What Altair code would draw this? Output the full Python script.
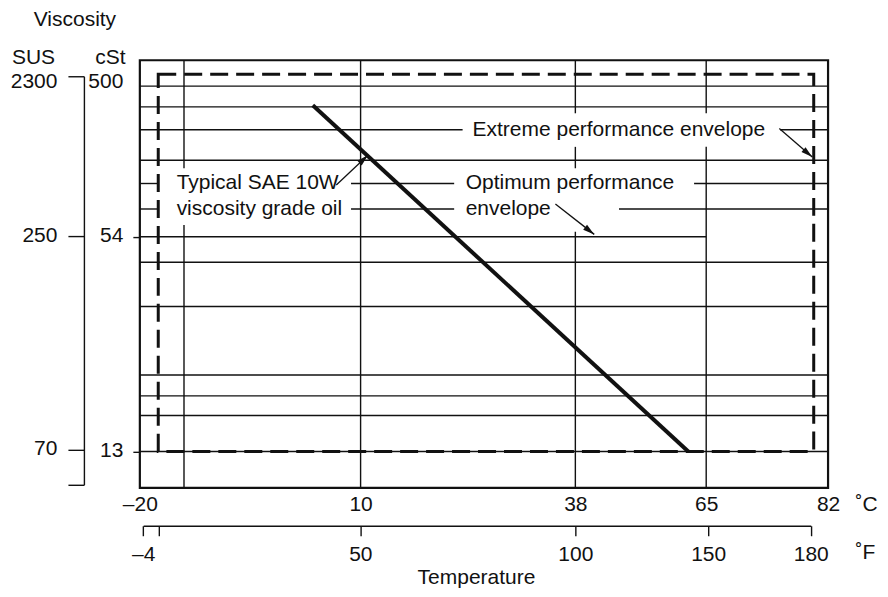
import altair as alt
import pandas as pd

FONT = "Liberation Sans"
FS = 21
INK = "#111111"

# ---------------- axis values ----------------
celsius_ticks = [-20, 10, 38, 65, 82]
celsius_labels = ["–20", "10", "38", "65", "82"]
fahrenheit_breaks = [-4, 50, 100, 150, 180]
fahrenheit_ticks = [-4, 0, 50, 100, 150, 180]
fahrenheit_labels = ["–4", "", "50", "100", "150", "180"]
cst_ticks = [13, 54, 500]
cst_labels = ["13", "54", "500"]
cst_frame = [10, 600]          # viscosity at the frame bottom / top
sus_ticks = [60, 70, 250, 2300]
sus_labels = ["", "70", "250", "2300"]
titles = ["Viscosity", "Temperature"]

# ---------------- grid segments ----------------
# horizontal lines: viscosity (cSt), start / end temperature (°C)
hgrid_visc = [425, 320, 234, 234, 154, 112, 112, 112, 79, 79, 79, 54, 45.6, 34, 21.6, 18.8, 16.5, 13]
hgrid_start = [-20, -20, -20, 75.3, -20, -20, 8.7, 62.5, -20, 8.7, 47, -20, -20, -20, -20, -20, -20, -20]
hgrid_end = [82, 82, 23.3, 82, 82, -17.5, 22.2, 82, -17.5, 22.2, 82, 65, 82, 82, 82, 82, 82, 82]
# vertical lines: temperature (°C), top / bottom viscosity (cSt)
vgrid_temp = [-14, -14, 10, 38, 38, 38, 65, 65]
vgrid_top = [600, 63.4, 600, 600, 185, 57.8, 600, 185]
vgrid_bot = [138, 10, 10, 293, 138, 10, 293, 10]

# ---------------- envelopes and oil line ----------------
extreme_temp = [-17.5, 80]
extreme_visc = [13, 500]
oil_temp = [3.5, 61.3]
oil_visc = [327, 13]

# ---------------- annotations ----------------
label_text = ["Extreme performance envelope", "Typical SAE 10W", "viscosity grade oil",
              "Optimum performance", "envelope"]
label_temp = [24.6, -15.0, -15.0, 23.7, 23.7]
label_visc = [234, 112, 79, 112, 79]

arrow_t1 = [6.7, 75.2, 35.4]
arrow_v1 = [109.6, 238, 84.5]
arrow_t2 = [10.95, 79.8, 41.9]
arrow_v2 = [165, 161, 55.8]
arrow_angle = [46.5, 130.5, 127.6]

# ---------------- layout (pixel ranges) ----------------
C_RANGE = [0, 221, 436, 567, 689]
CST_RANGE = [428, 391.7, 176.7, 14, 0]
F_RANGE = [3.3, 220.7, 436, 569, 671.7]
SUS_RANGE = [425, 390, 176, 16]
ARROW_PATH = "M0,0L-0.6,2.2L0.6,2.2Z"


def label_expr(values, labels):
    expr = "''"
    for v, l in zip(values, labels):
        expr = f"datum.value == {v} ? '{l}' : ({expr})"
    return expr


x_scale = alt.Scale(type="linear", domain=celsius_ticks, range=C_RANGE, nice=False, zero=False)
y_scale = alt.Scale(type="log", domain=[cst_frame[0]] + cst_ticks + [cst_frame[1]],
                    range=CST_RANGE, nice=False)
f_scale = alt.Scale(type="linear", domain=fahrenheit_breaks, range=F_RANGE, nice=False, zero=False)
sus_scale = alt.Scale(type="log", domain=sus_ticks, range=SUS_RANGE, nice=False)

c_axis = alt.Axis(orient="bottom", values=celsius_ticks,
                  labelExpr=label_expr(celsius_ticks, celsius_labels),
                  ticks=False, domain=False, grid=False, labelPadding=6,
                  labelFlush=False, labelOverlap=False,
                  title="˚C", titleX=716, titleY=17, titleAngle=0,
                  titleAlign="left", titleBaseline="middle")
cst_axis = alt.Axis(orient="left", values=cst_ticks,
                    labelExpr=label_expr(cst_ticks, cst_labels),
                    tickSize=7, tickColor=INK, tickWidth=1.4,
                    tickOpacity={"condition": {"test": "datum.value == 500", "value": 0}, "value": 1},
                    labelOffset={"condition": {"test": "datum.value == 500", "value": 7}, "value": -1},
                    domain=False, grid=False, labelPadding=10, labelOverlap=False,
                    title="cSt", titleX=-30, titleY=-3, titleAngle=0,
                    titleAlign="center", titleBaseline="middle")
f_axis = alt.Axis(orient="bottom", offset=38, values=fahrenheit_ticks,
                  labelExpr=label_expr(fahrenheit_ticks, fahrenheit_labels),
                  tickSize=10, tickColor=INK, tickWidth=1.4,
                  domain=True, domainColor=INK, domainWidth=1.4, grid=False,
                  labelPadding=8, labelFlush=False, labelOverlap=False,
                  title="˚F", titleX=716, titleY=27, titleAngle=0,
                  titleAlign="left", titleBaseline="middle")
sus_axis = alt.Axis(orient="left", offset=56, values=sus_ticks,
                    labelExpr=label_expr(sus_ticks, sus_labels),
                    tickSize=16, tickColor=INK, tickWidth=1.4,
                    labelOffset={"condition": {"test": "datum.value == 2300", "value": 5}, "value": -1},
                    labelPadding=11,
                    domain=True, domainColor=INK, domainWidth=1.4, grid=False,
                    labelOverlap=False,
                    title="SUS", titleX=-51, titleY=-3, titleAngle=0,
                    titleAlign="center", titleBaseline="middle")

hgrid_df = pd.DataFrame({"v": hgrid_visc, "t1": hgrid_start, "t2": hgrid_end})
vgrid_df = pd.DataFrame({"t": vgrid_temp, "v1": vgrid_top, "v2": vgrid_bot})
env_df = pd.DataFrame({"t1": [extreme_temp[0]], "t2": [extreme_temp[1]],
                       "v1": [extreme_visc[0]], "v2": [extreme_visc[1]]})
oil_df = pd.DataFrame({"t": oil_temp, "v": oil_visc})
lab_df = pd.DataFrame({"text": label_text, "t": label_temp, "v": label_visc})
arr_df = pd.DataFrame({"t1": arrow_t1, "v1": arrow_v1, "t2": arrow_t2, "v2": arrow_v2,
                       "ang": arrow_angle})

hgrid = alt.Chart(hgrid_df).mark_rule(color=INK, strokeWidth=1.4).encode(
    x=alt.X("t1:Q", scale=x_scale, axis=c_axis),
    x2="t2:Q",
    y=alt.Y("v:Q", scale=y_scale, axis=cst_axis),
)
vgrid = alt.Chart(vgrid_df).mark_rule(color=INK, strokeWidth=1.4).encode(
    x=alt.X("t:Q", scale=x_scale, axis=None),
    y=alt.Y("v1:Q", scale=y_scale, axis=None),
    y2="v2:Q",
)
envelope = alt.Chart(env_df).mark_rect(fill="white", fillOpacity=0, stroke=INK,
                                       strokeWidth=3, strokeDash=[18, 8]).encode(
    x=alt.X("t1:Q", scale=x_scale, axis=None),
    x2="t2:Q",
    y=alt.Y("v1:Q", scale=y_scale, axis=None),
    y2="v2:Q",
)
oil = alt.Chart(oil_df).mark_line(color=INK, strokeWidth=4).encode(
    x=alt.X("t:Q", scale=x_scale, axis=None),
    y=alt.Y("v:Q", scale=y_scale, axis=None),
)
arrow_lines = alt.Chart(arr_df).mark_rule(color=INK, strokeWidth=1.3).encode(
    x=alt.X("t1:Q", scale=x_scale, axis=None),
    y=alt.Y("v1:Q", scale=y_scale, axis=None),
    x2="t2:Q",
    y2="v2:Q",
)
arrow_heads = alt.Chart(arr_df).mark_point(shape=ARROW_PATH, filled=True, size=110,
                                           color=INK, opacity=1, strokeWidth=0).encode(
    x=alt.X("t2:Q", scale=x_scale, axis=None),
    y=alt.Y("v2:Q", scale=y_scale, axis=None),
    angle=alt.Angle("ang:Q", scale=None),
)
labels = alt.Chart(lab_df).mark_text(align="left", baseline="middle", font=FONT,
                                     fontSize=FS, color=INK).encode(
    x=alt.X("t:Q", scale=x_scale, axis=None),
    y=alt.Y("v:Q", scale=y_scale, axis=None),
    text="text:N",
)
visc_title = alt.Chart(pd.DataFrame({"s": [titles[0]]})).mark_text(
    align="center", baseline="middle", font=FONT, fontSize=FS, color=INK).encode(
    x=alt.value(-65), y=alt.value(-40), text="s:N")
temp_title = alt.Chart(pd.DataFrame({"s": [titles[1]]})).mark_text(
    align="center", baseline="middle", font=FONT, fontSize=FS, color=INK).encode(
    x=alt.value(337), y=alt.value(518), text="s:N")

f_layer = alt.Chart(pd.DataFrame({"f": fahrenheit_breaks})).mark_point(opacity=0).encode(
    x=alt.X("f:Q", scale=f_scale, axis=f_axis))
sus_layer = alt.Chart(pd.DataFrame({"s": sus_ticks})).mark_point(opacity=0).encode(
    y=alt.Y("s:Q", scale=sus_scale, axis=sus_axis))

chart = alt.layer(
    hgrid, vgrid, envelope, oil, arrow_lines, arrow_heads, labels,
    visc_title, temp_title, f_layer, sus_layer
).resolve_scale(
    x="independent", y="independent"
).properties(
    width=689, height=428,
    padding={"left": 132, "top": 52, "right": 52, "bottom": 104},
    autosize=alt.AutoSizeParams(type="none"),
).configure_view(
    stroke=INK, strokeWidth=2.2
).configure_axis(
    labelFont=FONT, labelFontSize=FS, labelColor=INK,
    titleFont=FONT, titleFontSize=FS, titleFontWeight="normal", titleColor=INK,
)

chart.save("out.html", embed_options={"renderer": "svg", "actions": False})
